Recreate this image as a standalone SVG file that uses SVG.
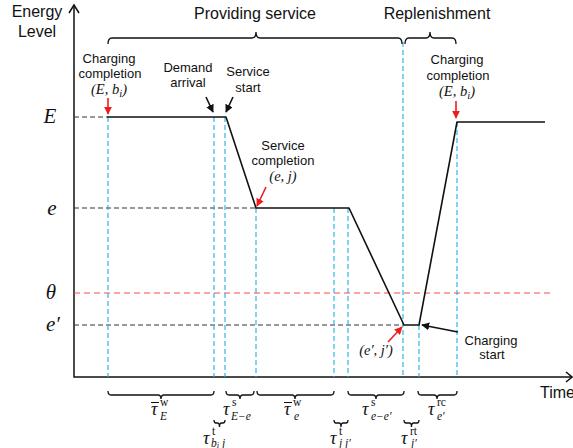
<svg xmlns="http://www.w3.org/2000/svg" width="573" height="448" viewBox="0 0 573 448">
  <style>
    .lbl { font-family: "Liberation Sans", Arial, sans-serif; font-size: 13px; fill: #111; text-anchor: middle; }
    .big { font-family: "Liberation Sans", Arial, sans-serif; font-size: 16px; fill: #111; }
    .math { font-family: "Liberation Serif", "DejaVu Serif", serif; font-style: italic; fill: #111; }
    .lvl { font-size: 21px; text-anchor: middle; }
    .pt { font-size: 14.5px; text-anchor: middle; }
    .tau { font-size: 18px; }
    .sc { font-family: "Liberation Serif", "DejaVu Serif", serif; font-size: 11.5px; fill: #111; }
    .it { font-style: italic; }
    .axis { stroke: #111; stroke-width: 1.5; fill: none; }
    .curve { stroke: #111; stroke-width: 1.6; fill: none; stroke-linejoin: round; }
    .guide { stroke: #333; stroke-width: 1; stroke-dasharray: 5 3; fill: none; }
    .thr { stroke: #ff4b4b; stroke-width: 1.2; stroke-dasharray: 6 4; fill: none; }
    .mark { stroke: #1ab0ea; stroke-width: 1.1; stroke-dasharray: 5 3; fill: none; }
    .brace { stroke: #111; stroke-width: 1.3; fill: none; }
    .red { stroke: #ee1c1c; stroke-width: 1.6; fill: none; }
    .blk { stroke: #111; stroke-width: 1.6; fill: none; }
  </style>
  <defs>
    <marker id="ahRed" viewBox="0 0 10 10" refX="9" refY="5" markerWidth="5" markerHeight="5" orient="auto">
      <path d="M0,0 L10,5 L0,10 z" fill="#ee1c1c"/>
    </marker>
    <marker id="ahBlk" viewBox="0 0 10 10" refX="9" refY="5" markerWidth="5" markerHeight="5" orient="auto">
      <path d="M0,0 L10,5 L0,10 z" fill="#111"/>
    </marker>
  </defs>
  <rect width="573" height="448" fill="#fff"/>

  <!-- axes -->
  <g id="axes">
    <path class="axis" d="M74,5 L74,377 L572,377"/>
    <path class="axis" d="M69,13 L74,5 L79,13"/>
    <path class="axis" d="M566,372 L572,377 L566,382"/>
    <text class="big" x="37" y="17" text-anchor="middle">Energy</text>
    <text class="big" x="37" y="37" text-anchor="middle">Level</text>
    <text class="big" x="540" y="398">Time</text>
  </g>

  <!-- energy levels -->
  <g id="levels">
    <text class="math lvl" x="50" y="123">E</text>
    <text class="math lvl" x="52" y="215">e</text>
    <text class="math lvl" x="51" y="299">θ</text>
    <text class="math lvl" x="53" y="331">e′</text>
    <line class="guide" x1="74" y1="117" x2="107" y2="117"/>
    <line class="guide" x1="74" y1="208" x2="256" y2="208"/>
    <line class="guide" x1="74" y1="325" x2="404" y2="325"/>
    <line class="thr" x1="74" y1="293" x2="550" y2="293"/>
  </g>

  <!-- event markers -->
  <g id="markers">
    <line class="mark" x1="108" y1="117" x2="108" y2="377"/>
    <line class="mark" x1="214" y1="117" x2="214" y2="377"/>
    <line class="mark" x1="225" y1="117" x2="225" y2="377"/>
    <line class="mark" x1="256" y1="208" x2="256" y2="377"/>
    <line class="mark" x1="334" y1="208" x2="334" y2="377"/>
    <line class="mark" x1="348" y1="208" x2="348" y2="377"/>
    <line class="mark" x1="403" y1="42" x2="403" y2="377"/>
    <line class="mark" x1="419" y1="325" x2="419" y2="377"/>
    <line class="mark" x1="457" y1="122" x2="457" y2="377"/>
  </g>

  <!-- energy trajectory -->
  <g id="trajectory">
    <path class="curve" d="M107,117 L226,117 L256,208 L349,208 L404,325 L419,325 L457,122 L545,122"/>
  </g>

  <!-- phase braces -->
  <g id="phases">
    <path class="brace" d="M108,44 Q108,38 112,38 L252,38 Q256,38 256,32 Q256,38 260,38 L398,38 Q402,38 402,44"/>
    <path class="brace" d="M405,44 Q405,38 409,38 L426,38 Q430,38 430,32 Q430,38 434,38 L452,38 Q456,38 456,44"/>
    <text class="big" x="255" y="19" text-anchor="middle">Providing service</text>
    <text class="big" x="437" y="19" text-anchor="middle">Replenishment</text>
  </g>

  <!-- event annotations -->
  <g id="charge-done-1">
    <text class="lbl" x="109" y="63">Charging</text>
    <text class="lbl" x="110" y="78">completion</text>
    <text class="math pt" x="109" y="94">(E, b<tspan font-size="10.5" dy="3">i</tspan><tspan dy="-3">)</tspan></text>
    <line class="red" x1="108" y1="98" x2="108" y2="114" marker-end="url(#ahRed)"/>
  </g>
  <g id="demand">
    <text class="lbl" x="188" y="72">Demand</text>
    <text class="lbl" x="188" y="87">arrival</text>
    <line class="blk" x1="206" y1="97" x2="213" y2="112" marker-end="url(#ahBlk)"/>
  </g>
  <g id="service-start">
    <text class="lbl" x="248" y="76">Service</text>
    <text class="lbl" x="248" y="92">start</text>
    <line class="blk" x1="233" y1="97" x2="226" y2="112" marker-end="url(#ahBlk)"/>
  </g>
  <g id="service-done">
    <text class="lbl" x="283" y="150" font-size="12.3">Service</text>
    <text class="lbl" x="283" y="165" font-size="12.3">completion</text>
    <text class="math pt" x="283" y="181">(e, j)</text>
    <line class="red" x1="266" y1="187" x2="257" y2="206" marker-end="url(#ahRed)"/>
  </g>
  <g id="depleted">
    <text class="math pt" x="376" y="355">(e′, j′)</text>
    <line class="red" x1="388" y1="342" x2="402" y2="327" marker-end="url(#ahRed)"/>
  </g>
  <g id="charge-start">
    <text class="lbl" x="491" y="345">Charging</text>
    <text class="lbl" x="492" y="359">start</text>
    <line class="blk" x1="458" y1="332" x2="422" y2="325" marker-end="url(#ahBlk)"/>
  </g>
  <g id="charge-done-2">
    <text class="lbl" x="457" y="64">Charging</text>
    <text class="lbl" x="458" y="80">completion</text>
    <text class="math pt" x="457" y="96">(E, b<tspan font-size="10.5" dy="3">i</tspan><tspan dy="-3">)</tspan></text>
    <line class="red" x1="456" y1="101" x2="456" y2="118" marker-end="url(#ahRed)"/>
  </g>

  <!-- duration braces -->
  <g id="durations">
    <path class="brace" d="M108,391 Q108,395 111,395 L158,395 Q161,395 161,399 Q161,395 164,395 L211,395 Q214,395 214,391"/>
    <path class="brace" d="M226,391 Q226,395 229,395 L237,395 Q240,395 240,399 Q240,395 243,395 L251,395 Q254,395 254,391"/>
    <path class="brace" d="M257,391 Q257,395 260,395 L292,395 Q295,395 295,399 Q295,395 298,395 L331,395 Q334,395 334,391"/>
    <path class="brace" d="M348,391 Q348,395 351,395 L373,395 Q376,395 376,399 Q376,395 379,395 L401,395 Q404,395 404,391"/>
    <path class="brace" d="M418,391 Q418,395 421,395 L434,395 Q437,395 437,399 Q437,395 440,395 L454,395 Q457,395 457,391"/>
    <path class="brace" d="M214,420 Q214,423 216,423 L217.5,423 Q219.5,423 219.5,427 Q219.5,423 221.5,423 L223,423 Q225,423 225,420"/>
    <path class="brace" d="M334,420 Q334,423 336,423 L339,423 Q341,423 341,427 Q341,423 343,423 L346,423 Q348,423 348,420"/>
    <path class="brace" d="M404,420 Q404,423 406,423 L409.5,423 Q411.5,423 411.5,427 Q411.5,423 413.5,423 L417,423 Q419,423 419,420"/>
  </g>

  <!-- duration labels -->
  <g id="duration-labels">
    <text class="math tau" x="151" y="415">τ</text>
    <line x1="151" y1="402.5" x2="159" y2="402.5" stroke="#111" stroke-width="1"/>
    <text class="sc" x="160" y="406">w</text>
    <text class="sc it" x="160" y="420">E</text>

    <text class="math tau" x="223" y="415">τ</text>
    <text class="sc" x="232" y="406">s</text>
    <text class="sc it" x="231" y="420">E−e</text>

    <text class="math tau" x="284" y="415">τ</text>
    <line x1="284" y1="402.5" x2="292" y2="402.5" stroke="#111" stroke-width="1"/>
    <text class="sc" x="293" y="406">w</text>
    <text class="sc it" x="294" y="420">e</text>

    <text class="math tau" x="362" y="415">τ</text>
    <text class="sc" x="371" y="406">s</text>
    <text class="sc it" x="371" y="420">e−e′</text>

    <text class="math tau" x="428" y="415">τ</text>
    <text class="sc" x="437" y="406">rc</text>
    <text class="sc it" x="437" y="420">e′</text>

    <text class="math tau" x="203" y="444">τ</text>
    <text class="sc" x="212" y="435">t</text>
    <text class="sc it" x="211" y="447">b<tspan font-size="8.5" dy="1">i</tspan><tspan dy="-1"> j</tspan></text>

    <text class="math tau" x="330" y="444">τ</text>
    <text class="sc" x="339" y="435">t</text>
    <text class="sc it" x="339" y="447">j j′</text>

    <text class="math tau" x="401" y="444">τ</text>
    <text class="sc" x="410" y="435">rt</text>
    <text class="sc it" x="411" y="447">j′</text>
  </g>
</svg>
